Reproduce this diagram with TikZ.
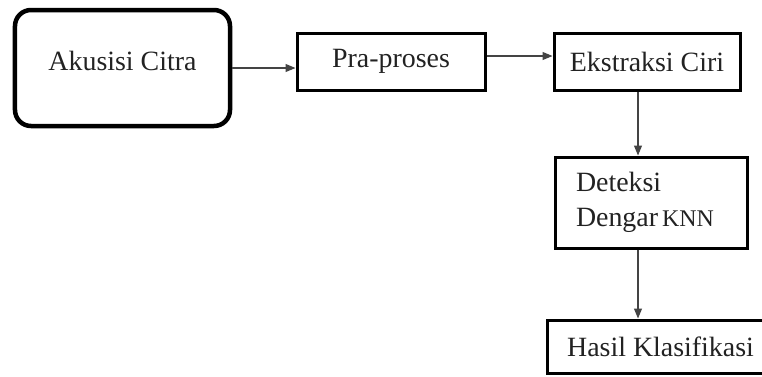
\documentclass[tikz,border=0pt]{standalone}
\usepackage{fontspec}
\setmainfont{Liberation Serif}
\usetikzlibrary{arrows.meta}
\definecolor{ink}{HTML}{222222}
\definecolor{wire}{HTML}{444444}
\tikzset{
  box/.style={draw=black, line width=3bp, rectangle, inner sep=0pt, text=ink,
    font=\fontsize{28}{35}\selectfont},
  roundbox/.style={box, rounded corners=16bp, line width=4.5bp},
  flow/.style={draw=wire, line width=1.1bp, -{Triangle[length=10bp,width=8bp]}}
}
\begin{document}
\begin{tikzpicture}[x=1bp,y=-1bp]
\useasboundingbox (0,0) rectangle (762,376);
\node[roundbox, minimum width=215bp, minimum height=116bp] (A) at (122.5,68) {\raisebox{14bp}{Akusisi Citra}};
\node[box, minimum width=188bp, minimum height=57bp] (B) at (391,61.5) {Pra-proses};
\node[box, minimum width=186bp, minimum height=57bp] (C) at (647,61.5) {Ekstraksi Ciri};
\node[box, minimum width=192bp, minimum height=91bp, text width=150bp, align=left, inner xsep=21bp] (D) at (651,202.5) {Deteksi\\Dengar{\fontsize{24}{35}\selectfont\,KNN}};
\node[box, minimum width=219bp, minimum height=53bp] (E) at (656.5,346.5) {\hspace*{8bp}Hasil Klasifikasi};
\draw[flow] (A.east) -- (A.east -| B.west);
\draw[flow] ([yshift=5.5bp]B.east) -- ([yshift=5.5bp]B.east -| C.west);
\draw[flow] ([xshift=-9bp]C.south) -- ([xshift=-9bp]C.south |- D.north);
\draw[flow] ([xshift=-13bp]D.south) -- ([xshift=-13bp]D.south |- E.north);
\end{tikzpicture}
\end{document}
